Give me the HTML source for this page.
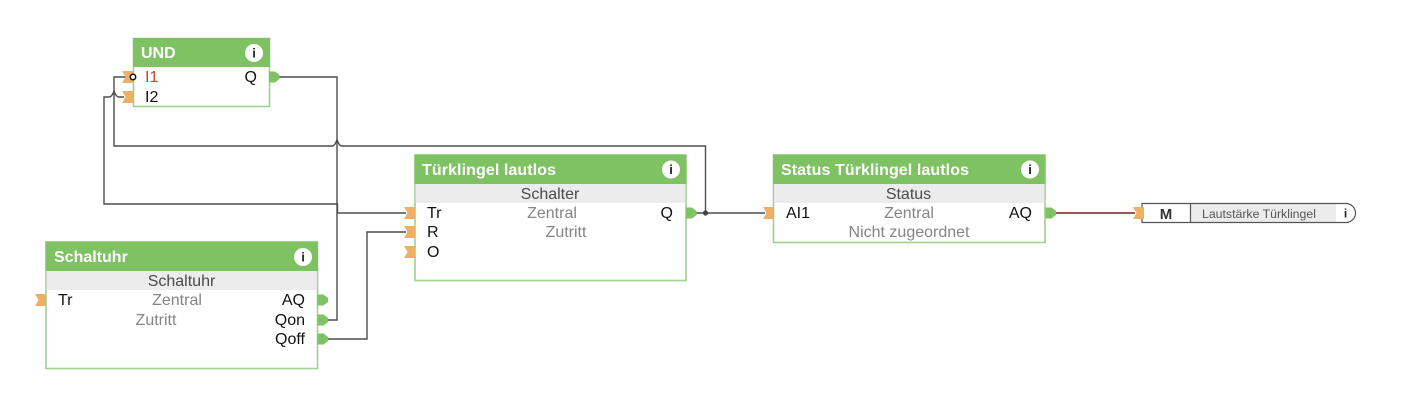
<!DOCTYPE html>
<html>
<head>
<meta charset="utf-8">
<style>
html,body{margin:0;padding:0;background:#fff}
svg{display:block}
text{font-family:"Liberation Sans",sans-serif;font-size:16px;fill:#111}
.h{font-weight:700;font-size:16px;fill:#fff}
.l{letter-spacing:.09px}
.g{fill:#858585}
.t{fill:#4a4a4a}
.w{fill:none;stroke:#4d4d4d;stroke-width:1.4}
.b{fill:#fff;stroke:#9fd18f;stroke-width:1.6}
.hd{fill:#7ec263}
.gr{fill:#ececec}
.in{fill:#edb066}
.out{fill:#7ec263}
.ii{font-weight:700;font-size:13px;fill:#222;text-anchor:middle}
.m{text-anchor:middle}
.e{text-anchor:end}
</style>
</head>
<body>
<svg width="1405" height="413" viewBox="0 0 1405 413" xmlns="http://www.w3.org/2000/svg">
<defs>
<g id="inp"><polygon class="in" points="-11,-6 0,-6 0,6 -11,6 -7.500,0"/></g>
<g id="outp"><path class="out" d="M0,-5.500H6L10.500,-2V2L6,5.500H0Z"/></g>
</defs>

<!-- wires -->
<path class="w" d="M278,77H337V320H327"/>
<path class="w" d="M133,77H114V146H332Q335,146 337,139.500Q339,146 342,146H705.500V213"/>
<path class="w" d="M124,97H119Q116,97 114,91Q112,97 109,97H104V204H337.500V213H406"/>
<path class="w" d="M327,339H367V232H406"/>
<path class="w" d="M696,213H765"/>
<circle cx="705.500" cy="213" r="2.600" fill="#444"/>
<path d="M1056,213H1135" fill="none" stroke="#8f3f35" stroke-width="1.800"/>

<!-- UND -->
<rect class="b" x="133.500" y="38.500" width="136" height="68"/>
<rect class="hd" x="133" y="38" width="137" height="29"/>
<text class="h" x="141" y="58">UND</text>
<circle cx="254" cy="53" r="9" fill="#fff"/>
<text class="ii" x="254" y="57.500">i</text>
<use href="#inp" x="133" y="77"/>
<use href="#inp" x="133" y="97"/>
<circle cx="133" cy="77" r="2.700" fill="#fff" stroke="#111" stroke-width="1.500"/>
<text x="145" y="82" style="fill:#d83a32">I1</text>
<text x="145" y="102">I2</text>
<text class="e" x="257" y="82">Q</text>
<use href="#outp" x="269" y="77"/>

<!-- Schaltuhr -->
<rect class="b" x="46" y="242" width="271.500" height="126.500"/>
<rect class="hd" x="45.500" y="241.500" width="272.500" height="29.500"/>
<rect class="gr" x="46.500" y="271" width="270.500" height="19"/>
<text class="h" x="54" y="262">Schaltuhr</text>
<circle cx="303" cy="257" r="9" fill="#fff"/>
<text class="ii" x="303" y="261.500">i</text>
<text class="t m" x="181.500" y="286">Schaltuhr</text>
<use href="#inp" x="46" y="300"/>
<text x="58" y="305">Tr</text>
<text class="g m" x="177" y="305">Zentral</text>
<text class="g m" x="156" y="325">Zutritt</text>
<text class="e" x="305" y="305">AQ</text>
<text class="e" x="305" y="325">Qon</text>
<text class="e" x="305" y="344">Qoff</text>
<use href="#outp" x="317.500" y="300"/>
<use href="#outp" x="317.500" y="320"/>
<use href="#outp" x="317.500" y="339"/>

<!-- Türklingel lautlos -->
<rect class="b" x="415" y="155" width="271" height="125.500"/>
<rect class="hd" x="414.500" y="154.500" width="272" height="29.500"/>
<rect class="gr" x="415.500" y="184" width="270" height="19"/>
<text class="h l" x="422" y="175">Türklingel lautlos</text>
<circle cx="671" cy="169.500" r="9" fill="#fff"/>
<text class="ii" x="671" y="174">i</text>
<text class="t m" x="550" y="199">Schalter</text>
<use href="#inp" x="415" y="213"/>
<use href="#inp" x="415" y="232"/>
<use href="#inp" x="415" y="252"/>
<text x="427" y="218">Tr</text>
<text x="427" y="237">R</text>
<text x="427" y="257">O</text>
<text class="g m" x="552" y="218">Zentral</text>
<text class="g m" x="566" y="237">Zutritt</text>
<text class="e" x="673" y="218">Q</text>
<use href="#outp" x="686" y="213"/>

<!-- Status Türklingel lautlos -->
<rect class="b" x="773.500" y="155" width="271.500" height="87.500"/>
<rect class="hd" x="773" y="154.500" width="272.500" height="29.500"/>
<rect class="gr" x="774" y="184" width="270.500" height="19"/>
<text class="h l" x="781" y="175">Status Türklingel lautlos</text>
<circle cx="1030" cy="169.500" r="9" fill="#fff"/>
<text class="ii" x="1030" y="174">i</text>
<text class="t m" x="908.500" y="199">Status</text>
<use href="#inp" x="774" y="213"/>
<text x="786" y="218">AI1</text>
<text class="g m" x="909" y="218">Zentral</text>
<text class="g m" x="909" y="237">Nicht zugeordnet</text>
<text class="e" x="1032" y="218">AQ</text>
<use href="#outp" x="1045.500" y="213"/>

<!-- Output -->
<path d="M1190.500,203.500H1336V222.500H1190.500Z" fill="#ececec"/>
<path d="M1142,203.500H1346A9.500,9.500 0 0 1 1346,222.500H1142Z" fill="none" stroke="#555" stroke-width="1.200"/>
<path d="M1190.500,203.500V222.500" stroke="#555" stroke-width="1.200"/>
<use href="#inp" x="1144" y="213"/>
<text class="m" x="1166" y="219" style="font-weight:700;font-size:15px;fill:#333">M</text>
<text x="1202" y="218" style="font-size:12.300px;fill:#555">Lautstärke Türklingel</text>
<text class="ii" x="1345.500" y="217.500" style="font-size:12px">i</text>
</svg>
</body>
</html>
